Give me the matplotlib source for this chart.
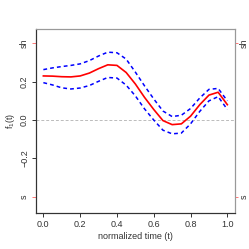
import numpy as np
import matplotlib
matplotlib.use("Agg")
import matplotlib.pyplot as plt

plt.rcParams['font.family'] = ['Liberation Sans', 'DejaVu Sans']
plt.rcParams['mathtext.default'] = 'regular'

t = [0.0, 0.05, 0.10, 0.15, 0.20, 0.25, 0.30, 0.35, 0.40, 0.45, 0.50,
     0.55, 0.60, 0.65, 0.70, 0.75, 0.80, 0.85, 0.90, 0.95, 1.0]
f_mean = [0.230, 0.229, 0.226, 0.225, 0.230, 0.245, 0.268, 0.288, 0.285, 0.248, 0.188,
          0.118, 0.055, -0.003, -0.024, -0.020, 0.020, 0.080, 0.130, 0.145, 0.080]
f_upper = [0.263, 0.272, 0.279, 0.285, 0.293, 0.310, 0.334, 0.354, 0.351, 0.318, 0.250,
           0.178, 0.110, 0.047, 0.018, 0.025, 0.060, 0.115, 0.160, 0.165, 0.100]
f_lower = [0.195, 0.183, 0.168, 0.162, 0.167, 0.180, 0.202, 0.222, 0.219, 0.182, 0.126,
           0.058, 0.000, -0.053, -0.072, -0.068, -0.020, 0.045, 0.100, 0.122, 0.055]

x_ticks = [0.0, 0.2, 0.4, 0.6, 0.8, 1.0]
y_ticks = [-0.2, 0.0, 0.2]
y_labels = ['\u22120.2', '0.0', '0.2']
ref_ticks = [-0.4, 0.4]
ref_labels = ['s', 'sh']

fig = plt.figure(figsize=(2.49, 2.49), dpi=100)
ax = fig.add_axes([0.1446, 0.1446, 0.798, 0.739])

ax.axhline(0, color='#bbbbbb', lw=0.7, ls=(0, (3, 2)))
ax.plot(t, f_upper, color='blue', lw=1.1, ls=(0, (2.5, 2)))
ax.plot(t, f_lower, color='blue', lw=1.1, ls=(0, (2.5, 2)))
ax.plot(t, f_mean, color='red', lw=1.2)

ax.set_xlim(-0.04, 1.04)
ax.set_ylim(-0.485, 0.475)

dark = '#333333'
pink = '#ff7777'
ax.set_xticks(x_ticks)
ax.set_xticklabels(['%.1f' % v for v in x_ticks])
ax.set_yticks(y_ticks)
ax.set_yticklabels(y_labels, rotation=90, va='center')
ax.set_yticks(ref_ticks, minor=True)
ax.set_yticklabels(ref_labels, minor=True, rotation=90, va='center')
ax.tick_params(axis='both', which='major', labelsize=6.5, length=3, width=0.7,
               color=dark, labelcolor=dark, pad=2)
ax.tick_params(axis='y', which='minor', labelsize=6.5, length=3, width=0.7,
               color=pink, labelcolor=dark, pad=2)

ax2 = ax.twinx()
ax2.set_ylim(ax.get_ylim())
ax2.set_yticks(ref_ticks)
ax2.set_yticklabels(ref_labels, rotation=90, va='center')
ax2.tick_params(axis='y', labelsize=6.5, length=2.5, width=0.7, color=pink,
                labelcolor=dark, pad=1)

for a in (ax, ax2):
    a.spines['left'].set_color(dark)
    a.spines['bottom'].set_color(dark)
    a.spines['top'].set_color('#999999')
    a.spines['right'].set_color('#999999')
    for s in a.spines.values():
        s.set_linewidth(0.8)

ax.set_xlabel('normalized time (t)', fontsize=6.5, color=dark, labelpad=2)
ax.set_ylabel('f$_1$(t)', fontsize=6.5, color=dark, labelpad=2)

fig.savefig('out.png', dpi=100)
